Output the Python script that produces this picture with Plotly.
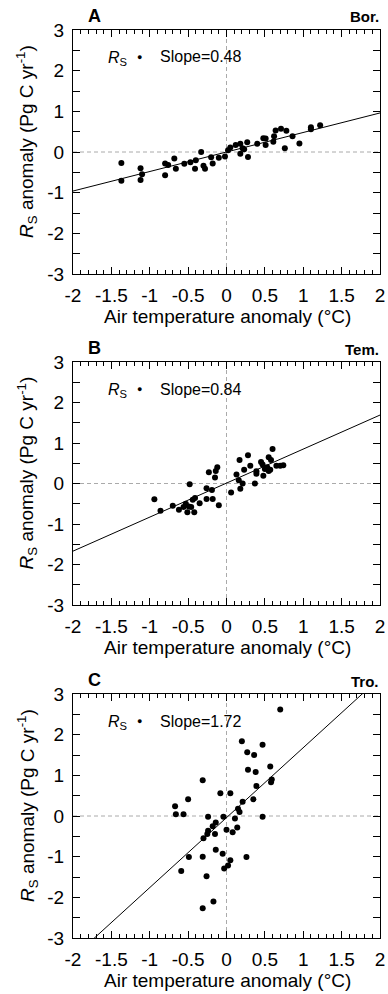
import plotly.graph_objects as go

# ---------------- data ----------------
bor_temp = [-1.37, -1.37, -1.12, -1.12, -1.10, -0.80, -0.80, -0.76, -0.68, -0.66,
            -0.55, -0.47, -0.41, -0.40, -0.33, -0.30, -0.28, -0.20, -0.18, -0.10,
            -0.02, 0.02, 0.05, 0.12, 0.18, 0.18, 0.21, 0.23, 0.27, 0.28,
            0.40, 0.48, 0.51, 0.51, 0.61, 0.62, 0.64, 0.71, 0.76, 0.78,
            0.86, 0.95, 1.10, 1.10, 1.22]
bor_rs = [-0.27, -0.71, -0.40, -0.69, -0.55, -0.28, -0.57, -0.32, -0.16, -0.41,
          -0.29, -0.25, -0.41, -0.20, 0.00, -0.34, -0.41, -0.13, -0.28, -0.14,
          -0.11, 0.04, 0.11, 0.17, 0.20, -0.04, 0.09, 0.07, 0.24, -0.12,
          0.20, 0.34, 0.33, 0.17, 0.25, 0.39, 0.53, 0.57, 0.09, 0.52,
          0.39, 0.21, 0.61, 0.56, 0.66]

tem_temp = [-0.94, -0.86, -0.70, -0.62, -0.56, -0.53, -0.51, -0.49, -0.46, -0.44,
            -0.42, -0.41, -0.35, -0.48, -0.26, -0.26, -0.23, -0.19, -0.18, -0.15,
            -0.14, -0.12, -0.10, 0.06, 0.13, 0.16, 0.17, 0.18, 0.21, 0.23,
            0.28, 0.31, 0.37, 0.39, 0.39, 0.45, 0.47, 0.48, 0.50, 0.53,
            0.55, 0.55, 0.57, 0.58, 0.60, 0.65, 0.70, 0.74]
tem_rs = [-0.39, -0.67, -0.55, -0.65, -0.58, -0.50, -0.71, -0.57, -0.58, -0.40,
          -0.71, -0.36, -0.49, -0.02, -0.38, -0.12, 0.28, -0.16, -0.38, 0.15,
          0.31, 0.40, -0.54, -0.22, 0.22, 0.08, 0.58, -0.13, 0.00, 0.34,
          0.70, 0.44, 0.00, 0.24, 0.30, 0.53, 0.47, 0.19, 0.36, 0.40,
          0.65, 0.31, 0.34, 0.58, 0.85, 0.44, 0.44, 0.45]

tro_temp = [0.70, 0.20, 0.47, 0.27, 0.36, 0.57, 0.28, 0.38, 0.59, 0.58,
            -0.31, 0.39, -0.50, -0.08, 0.05, 0.35, 0.21, -0.67, 0.15, 0.17,
            -0.66, -0.56, -0.24, -0.04, 0.47, 0.11, -0.14, -0.18, -0.24, -0.25,
            -0.15, 0.00, 0.14, 0.08, -0.30, -0.14, -0.05, 0.05, 0.02, -0.03,
            -0.49, -0.31, 0.26, -0.59, -0.26, -0.17, -0.31]
tro_rs = [2.62, 1.84, 1.75, 1.57, 1.50, 1.22, 1.14, 1.08, 0.90, 0.83,
          0.88, 0.74, 0.41, 0.56, 0.56, 0.41, 0.35, 0.24, 0.18, 0.10,
          0.04, 0.04, -0.02, -0.02, -0.02, -0.06, -0.16, -0.25, -0.36, -0.44,
          -0.44, -0.34, -0.28, -0.40, -0.55, -0.83, -0.93, -1.09, -1.22, -1.29,
          -1.01, -1.00, -1.01, -1.35, -1.48, -2.10, -2.27]

slopes = [0.48, 0.84, 1.72]
intercepts = [0.0, 0.01, -0.04]
region_labels = ["Bor.", "Tem.", "Tro."]
panel_letters = ["A", "B", "C"]

x_tick_vals = [-2, -1.5, -1, -0.5, 0, 0.5, 1, 1.5, 2]
x_tick_text = ["-2", "-1.5", "-1", "-0.5", "0", "0.5", "1", "1.5", "2"]
y_tick_vals = [-3, -2, -1, 0, 1, 2, 3]
y_tick_text = ["-3", "-2", "-1", "0", "1", "2", "3"]
x_range = [-2, 2]
y_range = [-3, 3]

xs = [bor_temp, tem_temp, tro_temp]
ys = [bor_rs, tem_rs, tro_rs]

# ---------------- layout geometry (pixels) ----------------
W, H = 388, 994
ML, MR, MT, MB = 73, 8, 30, 56
PW = W - ML - MR
PH = H - MT - MB
panel_px = [(30, 274), (362, 605), (694, 938)]


def py2paper(py):
    return (H - MB - py) / PH


def px2paper(px):
    return (px - ML) / PW


FONT = "Liberation Sans, Arial, Helvetica, sans-serif"

fig = go.Figure()
annotations = []
shapes = []

for i in range(3):
    sfx = "" if i == 0 else str(i + 1)
    xa, ya = "x" + sfx, "y" + sfx
    fig.add_trace(go.Scatter(x=xs[i], y=ys[i], mode="markers", xaxis=xa, yaxis=ya,
                             marker=dict(color="black", size=6), showlegend=False))
    fit_y = [slopes[i] * v + intercepts[i] for v in x_range]
    fig.add_trace(go.Scatter(x=x_range, y=fit_y, mode="lines", xaxis=xa, yaxis=ya,
                             line=dict(color="black", width=1), showlegend=False))
    top, bot = panel_px[i]
    dom = [py2paper(bot), py2paper(top)]
    axis_common = dict(showline=True, linecolor="black", linewidth=1.3, mirror="ticks",
                       ticks="inside", tickcolor="black", tickwidth=1, showgrid=False,
                       zeroline=False, tickfont=dict(family=FONT, size=19, color="black"),
                       tickangle=0)
    fig.layout["xaxis" + sfx] = dict(
        axis_common, domain=[0, 1], anchor=ya, range=x_range,
        tickvals=x_tick_vals, ticktext=x_tick_text, ticklen=7, ticklabelstandoff=4,
        minor=dict(dtick=0.1, tick0=-2, ticklen=4, ticks="inside", tickcolor="black",
                   tickwidth=1, showgrid=False))
    fig.layout["yaxis" + sfx] = dict(
        axis_common, domain=dom, anchor=xa, range=y_range,
        tickvals=y_tick_vals, ticktext=y_tick_text, ticklen=7, ticklabelstandoff=4,
        minor=dict(dtick=0.5, tick0=-3, ticklen=7, ticks="inside", tickcolor="black",
                   tickwidth=1, showgrid=False))
    # dashed zero lines
    shapes.append(dict(type="line", xref=xa, yref=ya + " domain", x0=0, x1=0, y0=0, y1=1,
                       line=dict(color="#aaaaaa", width=1, dash="4px,3px"), layer="below"))
    shapes.append(dict(type="line", xref=xa + " domain", yref=ya, x0=0, x1=1, y0=0, y1=0,
                       line=dict(color="#aaaaaa", width=1, dash="4px,3px"), layer="below"))
    # panel letter and region label
    annotations.append(dict(text="<b>%s</b>" % panel_letters[i], xref="paper", yref="paper",
                            x=px2paper(94), y=py2paper(top - 14), xanchor="center", yanchor="middle",
                            showarrow=False, font=dict(family=FONT, size=18, color="black")))
    annotations.append(dict(text="<b>%s</b>" % region_labels[i], xref="paper", yref="paper",
                            x=px2paper(381), y=py2paper(top - 13), xanchor="right", yanchor="middle",
                            showarrow=False, font=dict(family=FONT, size=15, color="black")))
    # in-panel key
    annotations.append(dict(text="<i>R</i><sub>S</sub>", xref="paper", yref="paper",
                            x=px2paper(106), y=py2paper(top + 28), xanchor="left", yanchor="middle",
                            showarrow=False, font=dict(family=FONT, size=16, color="black")))
    annotations.append(dict(text="●", xref="paper", yref="paper",
                            x=px2paper(139), y=py2paper(top + 27), xanchor="center", yanchor="middle",
                            showarrow=False, font=dict(family=FONT, size=9, color="black")))
    annotations.append(dict(text="Slope=%.2f" % slopes[i], xref="paper", yref="paper",
                            x=px2paper(158), y=py2paper(top + 27), xanchor="left", yanchor="middle",
                            showarrow=False, font=dict(family=FONT, size=16, color="black")))
    # axis titles
    annotations.append(dict(text="Air temperature anomaly (°C)", xref="paper", yref="paper",
                            x=px2paper(227), y=py2paper(bot + 42), xanchor="center", yanchor="middle",
                            showarrow=False, font=dict(family=FONT, size=19, color="black")))
    annotations.append(dict(text="<i>R</i><sub>S</sub> anomaly (Pg C yr<sup>-1</sup>)",
                            xref="paper", yref="paper", textangle=-90,
                            x=px2paper(27), y=py2paper((top + bot) / 2 - 10), xanchor="center",
                            yanchor="middle", showarrow=False,
                            font=dict(family=FONT, size=19, color="black")))

fig.update_layout(width=W, height=H, margin=dict(l=ML, r=MR, t=MT, b=MB, autoexpand=False),
                  paper_bgcolor="white", plot_bgcolor="white", showlegend=False,
                  annotations=annotations, shapes=shapes,
                  font=dict(family=FONT, color="black"))

fig.write_html("out.html")
